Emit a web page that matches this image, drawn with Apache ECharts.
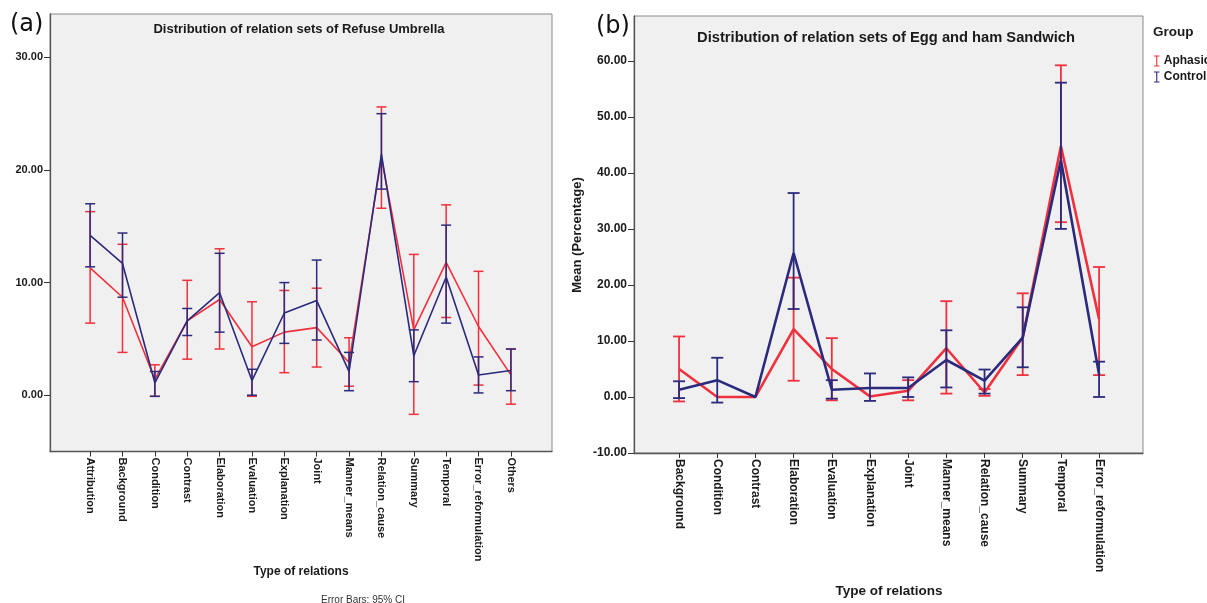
<!DOCTYPE html>
<html>
<head>
<meta charset="utf-8">
<script src="https://cdn.jsdelivr.net/npm/echarts@6/dist/echarts.min.js"></script>
<style>html,body{margin:0;padding:0;background:#fff}#c{width:1207px;height:603px}</style>
</head>
<body>
<div id="c"></div>
<script>
// ---- Panel (a): Refuse Umbrella ----
const A_cats = ['Attribution','Background','Condition','Contrast','Elaboration','Evaluation','Explanation','Joint','Manner_means','Relation_cause','Summary','Temporal','Error_reformulation','Others'];
const A_aph_mean = [11.3, 8.7, 1.4, 6.6, 8.5, 4.3, 5.6, 6.0, 2.9, 21.1, 5.8, 11.8, 6.1, 1.8];
const A_aph_low  = [6.4, 3.8, -0.1, 3.2, 4.1, -0.1, 2.0, 2.5, 0.8, 16.6, -1.7, 6.9, 0.9, -0.8];
const A_aph_high = [16.3, 13.4, 2.7, 10.2, 13.0, 8.3, 9.3, 9.5, 5.1, 25.6, 12.5, 16.9, 11.0, 4.1];
const A_ctl_mean = [14.2, 11.7, 1.1, 6.6, 9.1, 1.3, 7.3, 8.4, 2.1, 21.4, 3.5, 10.5, 1.8, 2.2];
const A_ctl_low  = [11.4, 8.7, -0.1, 5.3, 5.6, 0.0, 4.6, 4.9, 0.4, 18.3, 1.2, 6.4, 0.2, 0.4];
const A_ctl_high = [17.0, 14.4, 2.1, 7.7, 12.6, 2.3, 10.0, 12.0, 3.8, 25.0, 5.8, 15.1, 3.4, 4.1];
const A_yticks = [0, 10, 20, 30];

// ---- Panel (b): Egg and ham Sandwich ----
const B_cats = ['Background','Condition','Contrast','Elaboration','Evaluation','Explanation','Joint','Manner_means','Relation_cause','Summary','Temporal','Error_reformulation'];
const B_aph_mean = [5.0, 0.0, 0.0, 12.1, 5.0, 0.1, 1.1, 8.7, 0.8, 10.6, 44.8, 13.9];
const B_aph_low  = [-0.8, 0.0, 0.0, 2.9, -0.6, 0.1, -0.6, 0.6, 0.2, 3.9, 31.2, 3.9];
const B_aph_high = [10.8, 0.0, 0.0, 21.3, 10.5, 0.1, 3.0, 17.1, 1.4, 18.5, 59.2, 23.2];
const B_ctl_mean = [1.3, 3.0, 0.0, 25.7, 1.3, 1.6, 1.6, 6.6, 2.9, 10.6, 42.3, 4.0];
const B_ctl_low  = [-0.2, -1.0, 0.0, 15.7, -0.3, -0.7, 0.0, 1.7, 0.6, 5.3, 30.0, 0.0];
const B_ctl_high = [2.8, 7.0, 0.0, 36.4, 3.0, 4.2, 3.5, 11.9, 4.9, 16.0, 56.1, 6.3];
const B_yticks = [-10, 0, 10, 20, 30, 40, 50, 60];

const groups = ['Aphasic', 'Control'];
const RED = '#f0313d';
const BLUE = '#2b2a7c';
const FONT = 'Liberation Sans';
const IBEAM = 'path://M0,0H8V1.6H4.8V14.4H8V16H0V14.4H3.2V1.6H0Z';

function idx(arr) { return arr.map((_, i) => i); }

function barRenderer(color, cap, width) {
  return function (params, api) {
    const x = api.value(0), lo = api.value(1), hi = api.value(2);
    if (hi - lo < 0.05) return null;
    const a = api.coord([x, hi]), b = api.coord([x, lo]);
    const st = { stroke: color, lineWidth: width };
    return {
      type: 'group',
      children: [
        { type: 'line', shape: { x1: a[0], y1: a[1], x2: b[0], y2: b[1] }, style: st },
        { type: 'line', shape: { x1: a[0] - cap, y1: a[1], x2: a[0] + cap, y2: a[1] }, style: st },
        { type: 'line', shape: { x1: b[0] - cap, y1: b[1], x2: b[0] + cap, y2: b[1] }, style: st }
      ]
    };
  };
}

const AXLINE = { show: true, onZero: false, lineStyle: { color: '#555', width: 1.3 } };

function xAxisCfg(grid, cats, min, max, fs) {
  return {
    type: 'value', gridIndex: grid, min: min, max: max, position: 'bottom',
    axisLine: AXLINE, splitLine: { show: false },
    axisTick: { show: true, customValues: idx(cats), length: 5, lineStyle: { color: '#333', width: 1 } },
    axisLabel: {
      customValues: idx(cats), formatter: v => cats[Math.round(v)] || '',
      rotate: -90, fontSize: fs, fontWeight: 'bold', fontFamily: FONT, color: '#1a1a1a', margin: 6
    }
  };
}
function yAxisCfg(grid, ticks, min, max, fs) {
  return {
    type: 'value', gridIndex: grid, min: min, max: max, position: 'left',
    axisLine: AXLINE, splitLine: { show: false },
    axisTick: { show: true, customValues: ticks, length: 6, lineStyle: { color: '#333', width: 1 } },
    axisLabel: {
      customValues: ticks, formatter: v => v.toFixed(2),
      fontSize: fs, fontWeight: 'bold', fontFamily: FONT, color: '#1a1a1a', margin: 7
    }
  };
}

function seriesFor(gi, cats, lows, highs, means, cap, bw, lw) {
  const out = [];
  const colors = [RED, BLUE];
  for (let g = 0; g < 2; g++) {
    out.push({
      type: 'custom', name: groups[g], xAxisIndex: gi, yAxisIndex: gi,
      itemStyle: { color: colors[g] },
      renderItem: barRenderer(colors[g], cap, bw),
      encode: { x: 0, y: [1, 2] },
      data: cats.map((c, i) => [i, lows[g][i], highs[g][i]]),
      z: 3 + g * 2
    });
    out.push({
      type: 'line', name: groups[g], xAxisIndex: gi, yAxisIndex: gi,
      symbol: 'none', color: colors[g],
      lineStyle: { color: colors[g], width: lw },
      data: means[g].map((v, i) => [i, v]),
      z: 4 + g * 2
    });
  }
  return out;
}

const chart = echarts.init(document.getElementById('c'));
const option = {
  animation: false,
  backgroundColor: '#ffffff',
  grid: [
    { left: 50, top: 14, width: 502, height: 437.5, show: true, backgroundColor: '#f0f0f0', borderColor: '#8a8a8a', borderWidth: 1 },
    { left: 634, top: 16, width: 509, height: 437, show: true, backgroundColor: '#f0f0f0', borderColor: '#8a8a8a', borderWidth: 1 }
  ],
  xAxis: [
    xAxisCfg(0, A_cats, -1.24, 14.27, 11),
    xAxisCfg(1, B_cats, -1.18, 12.15, 12)
  ],
  yAxis: [
    yAxisCfg(0, A_yticks, -5, 33.85, 11),
    yAxisCfg(1, B_yticks, -10, 68, 12)
  ],
  legend: {
    orient: 'vertical', left: 1149, top: 50, itemWidth: 6, itemHeight: 11, itemGap: 4,
    data: groups.map(n => ({ name: n, icon: IBEAM })),
    textStyle: { fontFamily: FONT, fontWeight: 'bold', fontSize: 12, color: '#1a1a1a', padding: [0, 0, 0, -1] },
    selectedMode: false
  },
  series: [].concat(
    seriesFor(0, A_cats, [A_aph_low, A_ctl_low], [A_aph_high, A_ctl_high], [A_aph_mean, A_ctl_mean], 5, 1.5, 1.6),
    seriesFor(1, B_cats, [B_aph_low, B_ctl_low], [B_aph_high, B_ctl_high], [B_aph_mean, B_ctl_mean], 6, 1.8, 2.6)
  ),
  graphic: [
    { type: 'text', left: 10, top: 13, style: { text: '(a)', font: '24px "DejaVu Sans"', fill: '#111' } },
    { type: 'text', left: 596, top: 15, style: { text: '(b)', font: '24px "DejaVu Sans"', fill: '#111' } },
    { type: 'text', x: 299, y: 29, style: { text: 'Distribution of relation sets of Refuse Umbrella', font: 'bold 13px "Liberation Sans"', fill: '#1a1a1a', align: 'center', verticalAlign: 'middle' } },
    { type: 'text', x: 886, y: 38, style: { text: 'Distribution of relation sets of Egg and ham Sandwich', font: 'bold 14.7px "Liberation Sans"', fill: '#1a1a1a', align: 'center', verticalAlign: 'middle' } },
    { type: 'text', x: 301, y: 572, style: { text: 'Type of relations', font: 'bold 12px "Liberation Sans"', fill: '#1a1a1a', align: 'center', verticalAlign: 'middle' } },
    { type: 'text', x: 889, y: 591, style: { text: 'Type of relations', font: 'bold 13.5px "Liberation Sans"', fill: '#1a1a1a', align: 'center', verticalAlign: 'middle' } },
    { type: 'text', x: 577, y: 235, rotation: Math.PI / 2, style: { text: 'Mean (Percentage)', font: 'bold 13px "Liberation Sans"', fill: '#1a1a1a', align: 'center', verticalAlign: 'middle' } },
    { type: 'text', x: 1153, y: 32, style: { text: 'Group', font: 'bold 13.5px "Liberation Sans"', fill: '#1a1a1a', align: 'left', verticalAlign: 'middle' } },
    { type: 'text', x: 363, y: 595, style: { text: 'Error Bars: 95% CI', font: '10px "Liberation Sans"', fill: '#333', align: 'center', verticalAlign: 'top' } }
  ]
};
chart.setOption(option);
</script>
</body>
</html>
